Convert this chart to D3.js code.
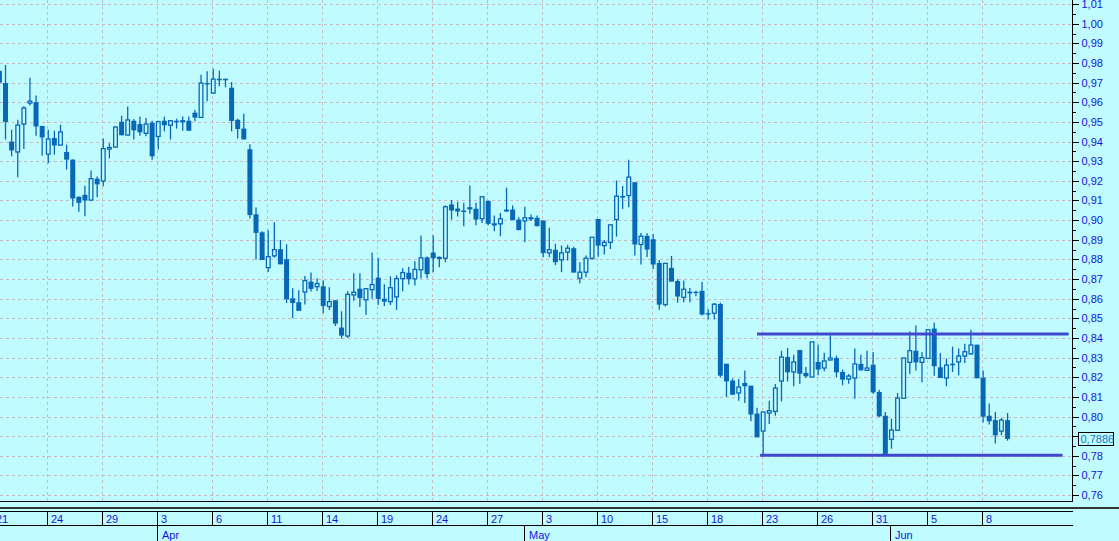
<!DOCTYPE html>
<html><head><meta charset="utf-8">
<script src="https://cdn.jsdelivr.net/npm/d3@7"></script>
<style>
html,body{margin:0;padding:0;background:#c0fcff;overflow:hidden}
svg{display:block}
text{font-family:"Liberation Sans",Arial,sans-serif;font-size:11px}
</style>
</head><body>
<svg id="c" width="1119" height="541"></svg>
<script>
// ---------- DATA ----------
const openV = [0.976,0.9698,0.940,0.9347,0.9489,0.9596,0.9601,0.9479,0.9336,0.9418,
0.9382,0.9347,0.9308,0.9119,0.9129,0.9102,0.9211,0.9199,0.9362,0.9372,
0.9501,0.9433,0.9506,0.9489,0.9442,0.9496,0.9426,0.9506,0.9483,0.9506,
0.9502,0.9506,0.9547,0.9523,0.9698,0.9647,0.972,0.972,0.9674,0.9511,
0.9466,0.9361,0.903,0.8938,0.8758,0.8818,0.8852,0.8801,0.8602,0.8582,
0.8634,0.8687,0.8661,0.8663,0.856,0.8592,0.8453,0.841,0.8619,0.8651,
0.8594,0.8646,0.8707,0.860,0.8585,0.8609,0.8702,0.8732,0.8701,0.8747,
0.881,0.8835,0.8807,0.8806,0.908,0.9059,0.9049,0.9059,0.9058,0.9007,
0.9098,0.8978,0.8981,0.9054,0.9054,0.9003,0.8996,0.901,0.9012,0.8998,
0.8833,0.8849,0.8798,0.8837,0.8857,0.8704,0.8735,0.8806,0.9006,0.887,
0.8887,0.9003,0.9123,0.9125,0.9193,0.8876,0.892,0.8903,0.8782,0.857,
0.8757,0.869,0.8607,0.8636,0.8635,0.864,0.8526,0.8526,0.8573,0.8269,
0.8183,0.812,0.8171,0.8157,0.8015,0.7926,0.8018,0.8026,0.8181,0.8303,
0.8227,0.8339,0.8222,0.8201,0.8278,0.8247,0.8288,0.8298,0.8227,0.8191,
0.8196,0.8268,0.8235,0.8264,0.8125,0.8004,0.7884,0.793,0.8093,0.8276,
0.8335,0.8276,0.8296,0.8448,0.8251,0.8196,0.8269,0.8278,0.8308,0.8319,
0.8366,0.8198,0.8004,0.7982,0.7926,0.7982];
const highV = [0.979,0.979,0.946,0.9511,0.958,0.9725,0.9634,0.948,0.946,0.9455,
0.9486,0.9384,0.931,0.912,0.9175,0.9253,0.9222,0.9416,0.9392,0.9478,
0.9532,0.9578,0.9515,0.9528,0.952,0.9506,0.9506,0.9527,0.9506,0.9516,
0.9528,0.9528,0.9562,0.974,0.9758,0.9771,0.9761,0.972,0.9703,0.9516,
0.9542,0.9386,0.9064,0.8943,0.8948,0.8989,0.8899,0.8877,0.8653,0.8643,
0.8716,0.8733,0.8704,0.8694,0.8658,0.8592,0.8536,0.8638,0.8729,0.8729,
0.8651,0.8835,0.8809,0.8673,0.8714,0.8719,0.8755,0.8762,0.8791,0.8922,
0.8815,0.8922,0.8815,0.9075,0.9102,0.9093,0.9088,0.9176,0.9088,0.9119,
0.910,0.9024,0.9037,0.9165,0.9075,0.9015,0.9068,0.9029,0.9024,0.8998,
0.8961,0.8879,0.8871,0.8874,0.8865,0.8786,0.882,0.8913,0.9006,0.8899,
0.8976,0.9202,0.9174,0.9307,0.9193,0.8935,0.8933,0.893,0.8797,0.878,
0.8818,0.8699,0.8692,0.8655,0.8641,0.8685,0.8546,0.8578,0.858,0.8269,
0.8193,0.8191,0.8234,0.8157,0.8045,0.8023,0.8081,0.8166,0.8335,0.8349,
0.8315,0.8339,0.8252,0.838,0.8366,0.8325,0.8414,0.831,0.8239,0.8217,
0.8346,0.8315,0.8335,0.8329,0.8137,0.8023,0.7989,0.812,0.8298,0.8434,
0.8463,0.8327,0.8446,0.8478,0.8324,0.8295,0.8356,0.8346,0.8371,0.8442,
0.8366,0.8234,0.8066,0.8023,0.7993,0.8018];
const lowV = [0.957,0.941,0.9325,0.9218,0.9362,0.9584,0.943,0.9328,0.929,0.9333,
0.9382,0.9257,0.907,0.9043,0.902,0.910,0.9116,0.9172,0.9314,0.937,
0.9432,0.9433,0.941,0.943,0.9427,0.9308,0.9359,0.9452,0.941,0.9466,
0.9455,0.9455,0.9503,0.9523,0.9605,0.9642,0.9681,0.9676,0.9452,0.9415,
0.9411,0.9008,0.880,0.8797,0.8736,0.8809,0.8775,0.8578,0.850,0.8538,
0.8571,0.8636,0.8639,0.8526,0.8543,0.8461,0.8397,0.840,0.859,0.8558,
0.8517,0.860,0.8568,0.8563,0.8568,0.8543,0.8638,0.8672,0.8667,0.8703,
0.8704,0.8735,0.876,0.8786,0.9003,0.9018,0.8969,0.9032,0.8974,0.8986,
0.8974,0.8944,0.8918,0.9041,0.900,0.8949,0.8888,0.8995,0.8969,0.8811,
0.8811,0.8771,0.8735,0.8794,0.8733,0.8679,0.8709,0.8797,0.8814,0.8825,
0.8853,0.8916,0.9057,0.9066,0.882,0.8774,0.8812,0.8751,0.8544,0.856,
0.8687,0.858,0.8582,0.8582,0.8612,0.8514,0.8494,0.8494,0.820,0.810,
0.8111,0.8081,0.8069,0.7976,0.7894,0.7797,0.7962,0.8004,0.8077,0.8179,
0.8154,0.8166,0.8196,0.8201,0.821,0.823,0.8286,0.8201,0.8159,0.8167,
0.8091,0.8235,0.8235,0.8115,0.7996,0.7802,0.7836,0.793,0.8093,0.8217,
0.8234,0.8174,0.8293,0.8208,0.8196,0.8154,0.8227,0.821,0.8273,0.8313,
0.8195,0.797,0.7959,0.7863,0.7904,0.7877];
const closeV = [0.970,0.950,0.9355,0.9484,0.9571,0.9606,0.9477,0.9421,0.9413,0.938,
0.9449,0.9308,0.911,0.9088,0.910,0.9211,0.9182,0.9364,0.937,0.9474,
0.9432,0.951,0.9457,0.9447,0.9489,0.9325,0.9501,0.9483,0.9506,0.9498,
0.9506,0.9455,0.9522,0.9698,0.9691,0.9718,0.9712,0.9712,0.9505,0.9464,
0.9411,0.9026,0.8935,0.8797,0.8814,0.885,0.8775,0.8597,0.8578,0.8538,
0.8692,0.865,0.8677,0.8563,0.8585,0.8473,0.8412,0.8622,0.8633,0.8603,
0.8651,0.8672,0.8599,0.8585,0.8656,0.8702,0.8733,0.8699,0.8749,0.8808,
0.8725,0.8806,0.881,0.9068,0.9049,0.9044,0.9041,0.9063,0.9003,0.9119,
0.8981,0.8981,0.9007,0.9044,0.900,0.8949,0.9012,0.9012,0.8969,0.8832,
0.8849,0.8786,0.8833,0.8857,0.8733,0.8735,0.8806,0.8913,0.887,0.8887,
0.8976,0.9122,0.9115,0.9219,0.8876,0.8918,0.885,0.8774,0.857,0.878,
0.8687,0.8611,0.8648,0.8627,0.8632,0.8519,0.8519,0.8572,0.8208,0.8179,
0.8111,0.815,0.8154,0.801,0.7894,0.8023,0.803,0.8145,0.8303,0.8225,
0.8278,0.8218,0.8205,0.838,0.8239,0.8283,0.8298,0.8225,0.8188,0.8206,
0.8268,0.8235,0.8247,0.8123,0.8001,0.7809,0.7931,0.8094,0.8298,0.8335,
0.8276,0.830,0.8442,0.8256,0.8196,0.8262,0.8261,0.8308,0.833,0.8364,
0.8195,0.7999,0.7976,0.7904,0.7982,0.7886];

const dayTickLabels = ["21","24","29","3","6","11","14","19","24","27","3","10","15","18","23","26","31","5","8"];
const dayTickIndex = [-1,8,17,26,35,44,53,62,71,80,89,98,107,116,125,134,143,152,161];
const monthLabels = ["Apr","May","Jun"];
const monthStartIndex = [26,86,146];
const yTickValues = [0.76,0.77,0.78,0.79,0.80,0.81,0.82,0.83,0.84,0.85,0.86,0.87,0.88,0.89,
  0.90,0.91,0.92,0.93,0.94,0.95,0.96,0.97,0.98,0.99,1.00,1.01];
const levelValues = [0.842, 0.7803];
const levelStartIndex = [124, 124.5];
const levelEndIndex = [175, 174];
const lastValue = 0.7886;

// ---------- STYLE ----------
const W = 1119, H = 541;
const plotRight = 1072.5, plotBottom = 501.5;
const BG = "#c0fcff", CANDLE = "#0868b8", GRID = "#c6bcbe", LEVEL = "#4048d0", AXISTXT = "#1414e0";

const svg = d3.select("#c");
svg.append("rect").attr("width", W).attr("height", H).attr("fill", BG);

const x = d3.scaleLinear().domain([0, 165]).range([-0.6, 1007.55]);
const y = d3.scaleLinear().domain([0.76, 0.98]).range([495.1, 63]);
const fmt = v => d3.format(".2f")(v).replace(".", ",");

// grid
const grid = svg.append("g").attr("stroke", GRID).attr("stroke-dasharray", "3,3").attr("shape-rendering", "crispEdges");
grid.selectAll("line.h").data(yTickValues).join("line").attr("class","h")
  .attr("x1", 0).attr("x2", plotRight).attr("y1", d => Math.round(y(d)) + 0.5).attr("y2", d => Math.round(y(d)) + 0.5);
grid.selectAll("line.v").data(dayTickIndex.filter(d => d >= 0)).join("line").attr("class","v")
  .attr("x1", d => Math.round(x(d)) - 0.5).attr("x2", d => Math.round(x(d)) - 0.5).attr("y1", 0).attr("y2", plotBottom);

// candles
const data = openV.map((o, i) => ({i, o, h: highV[i], l: lowV[i], c: closeV[i]}));
const bw = 5, sw = 1.3;
const cg = svg.append("g");
const cand = cg.selectAll("g").data(data).join("g");
cand.append("line")
  .attr("x1", d => x(d.i)).attr("x2", d => x(d.i))
  .attr("y1", d => y(d.h)).attr("y2", d => y(d.l))
  .attr("stroke", CANDLE).attr("stroke-width", sw);
cand.append("rect")
  .attr("x", d => d.c >= d.o ? x(d.i) - bw/2 + sw/2 : x(d.i) - bw/2)
  .attr("width", d => d.c >= d.o ? bw - sw : bw)
  .attr("y", d => d.c >= d.o ? y(d.c) : y(d.o))
  .attr("height", d => {
    const hgt = Math.abs(y(d.o) - y(d.c));
    return d.c >= d.o ? Math.max(hgt, 1) : Math.max(hgt, 1.2);
  })
  .attr("fill", d => d.c >= d.o ? BG : CANDLE)
  .attr("stroke", d => d.c >= d.o ? CANDLE : "none")
  .attr("stroke-width", sw);

// level lines
svg.append("g").selectAll("line").data(levelValues).join("line")
  .attr("x1", (d, k) => x(levelStartIndex[k])).attr("x2", (d, k) => x(levelEndIndex[k]))
  .attr("y1", d => y(d)).attr("y2", d => y(d))
  .attr("stroke", LEVEL).attr("stroke-width", 3);

// right axis
const ly = y(lastValue);
const ax = svg.append("g").attr("shape-rendering", "crispEdges");
ax.append("line").attr("x1", plotRight).attr("x2", plotRight).attr("y1", 0).attr("y2", plotBottom).attr("stroke", "#000");
ax.selectAll("line.maj").data(yTickValues).join("line").attr("class","maj")
  .attr("x1", plotRight).attr("x2", plotRight + 6)
  .attr("y1", d => Math.round(y(d)) + 0.5).attr("y2", d => Math.round(y(d)) + 0.5).attr("stroke", "#000");
ax.selectAll("line.min").data(yTickValues.map(v => v + 0.005).filter(v => y(v) > 0)).join("line").attr("class","min")
  .attr("x1", plotRight).attr("x2", plotRight + 3.5)
  .attr("y1", d => Math.round(y(d)) + 0.5).attr("y2", d => Math.round(y(d)) + 0.5).attr("stroke", "#000");
// labels hidden by the last-value box are not drawn (as in the reference)
svg.append("g").selectAll("text").data(yTickValues.filter(v => Math.abs(y(v) - ly) > 11)).join("text")
  .attr("x", plotRight + 9).attr("y", d => y(d) + 4)
  .attr("fill", AXISTXT).text(fmt);

// last value box
svg.append("rect").attr("x", 1078.5).attr("y", Math.round(ly) - 6.5).attr("width", 35).attr("height", 13)
  .attr("fill", BG).attr("stroke", "#000").attr("shape-rendering", "crispEdges");
svg.append("text").attr("x", 1080.5).attr("y", ly + 4).attr("fill", "#1479c4").text(d3.format(".4f")(lastValue).replace(".", ","));

// bottom time axis
const bt = svg.append("g").attr("shape-rendering", "crispEdges");
bt.append("line").attr("x1", 0).attr("x2", plotRight).attr("y1", plotBottom).attr("y2", plotBottom).attr("stroke", "#000");
bt.append("rect").attr("x", 0).attr("y", 506.8).attr("width", W).attr("height", 2.4).attr("fill", "#333");
bt.append("line").attr("x1", 0).attr("x2", plotRight).attr("y1", 511.5).attr("y2", 511.5).attr("stroke", "#000");
bt.append("line").attr("x1", 0).attr("x2", plotRight).attr("y1", 525.5).attr("y2", 525.5).attr("stroke", "#000");
bt.selectAll("line.dt").data(dayTickIndex).join("line").attr("class","dt")
  .attr("x1", d => Math.round(x(d)) - 0.5).attr("x2", d => Math.round(x(d)) - 0.5)
  .attr("y1", 511.5).attr("y2", 525.5).attr("stroke", "#000");
bt.selectAll("line.mt").data(monthStartIndex).join("line").attr("class","mt")
  .attr("x1", d => Math.round(x(d)) - 0.5).attr("x2", d => Math.round(x(d)) - 0.5)
  .attr("y1", 525.5).attr("y2", H).attr("stroke", "#000");
svg.append("g").selectAll("text").data(dayTickLabels).join("text")
  .attr("x", (d, k) => Math.round(x(dayTickIndex[k])) + 3).attr("y", 522.5)
  .attr("fill", AXISTXT).text(d => d);
svg.append("g").selectAll("text").data(monthLabels).join("text")
  .attr("x", (d, k) => Math.round(x(monthStartIndex[k])) + 4).attr("y", 538.5)
  .attr("fill", AXISTXT).text(d => d);
</script>
</body></html>
